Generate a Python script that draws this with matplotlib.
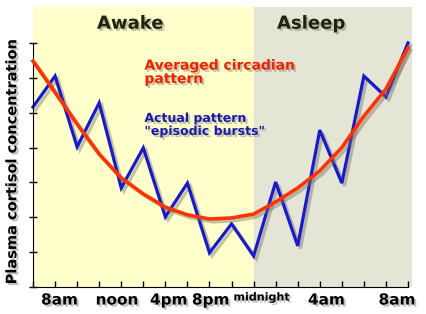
import matplotlib
matplotlib.use("Agg")
import matplotlib.pyplot as plt
import matplotlib.patheffects as pe
import numpy as np

# hours along the day, one step per tick (0..17)
steps = np.arange(18)
actual = [5.16, 6.05, 4.02, 5.28, 2.84, 3.99, 2.01, 2.98, 0.98, 1.81,
          0.89, 3.01, 1.18, 4.50, 2.98, 6.05, 5.45, 7.0]
averaged = [6.48, 5.58, 4.67, 3.81, 3.13, 2.67, 2.29, 2.07, 1.95, 1.98,
            2.09, 2.44, 2.84, 3.33, 4.0, 4.9, 5.68, 6.86]

time_labels = ["8am", "noon", "4pm", "8pm", "midnight", "4am", "8am"]
label_pos = [1.2, 3.8, 6.15, 8.05, 10.35, 13.3, 16.5]
sleep_start = 10  # tick where "Asleep" begins

fig = plt.figure(figsize=(4.26, 3.14), dpi=100)
ax = fig.add_axes([33 / 426, 27 / 314, 379 / 426, 280 / 314])

xmax = 17.18
ymax = 8.03
ax.set_xlim(0, xmax)
ax.set_ylim(0, ymax)

ax.axvspan(0, sleep_start, color="#ffffcc", zorder=0)
ax.axvspan(sleep_start, xmax, color="#e5e5d6", zorder=0)

shadow = [pe.SimpleLineShadow(offset=(2, -2), shadow_color="#777766", alpha=0.45), pe.Normal()]
ax.plot(steps, averaged, color="#ff3300", lw=2.6, zorder=3, clip_on=False,
        solid_joinstyle="round", path_effects=shadow)
ax.plot(steps, actual, color="#1a1acc", lw=2.3, zorder=2, clip_on=False,
        solid_joinstyle="miter", path_effects=shadow)

txt_shadow = [pe.withSimplePatchShadow(offset=(1.5, -1.5), shadow_rgbFace="#888877", alpha=0.5)]

ax.text(4.4, 7.55, "Awake", ha="center", va="center", fontsize=13,
        fontweight="bold", color="#222211", path_effects=txt_shadow)
ax.text(12.6, 7.55, "Asleep", ha="center", va="center", fontsize=13,
        fontweight="bold", color="#222211", path_effects=txt_shadow)
ax.text(5.05, 6.55, "Averaged circadian\npattern", ha="left", va="top",
        fontsize=10, fontweight="bold", color="#ee2200", linespacing=0.95,
        path_effects=txt_shadow)
ax.text(5.05, 5.02, "Actual pattern\n\"episodic bursts\"", ha="left", va="top",
        fontsize=9, fontweight="bold", color="#1a1aaa", linespacing=1.0,
        path_effects=txt_shadow)

for side in ["top", "right"]:
    ax.spines[side].set_visible(False)
ax.spines["left"].set_bounds(0, 7)
ax.spines["bottom"].set_bounds(0, 17)

ax.set_yticks(range(8))
ax.set_yticklabels([])
ax.tick_params(axis="y", direction="inout", length=6, width=1)

ax.set_xticks(steps, minor=True)
ax.tick_params(axis="x", which="minor", direction="in", length=4, width=1)
ax.set_xticks(label_pos)
ax.set_xticklabels(time_labels)
ax.tick_params(axis="x", which="major", length=0, pad=4)
for lbl in ax.get_xticklabels():
    lbl.set_fontweight("bold")
    lbl.set_fontsize(8 if lbl.get_text() == "midnight" else 11)
    lbl.set_path_effects(txt_shadow)

ax.set_ylabel("Plasma cortisol concentration", fontsize=10.5, fontweight="bold",
              path_effects=txt_shadow)
ax.yaxis.set_label_coords(-0.036, 0.45)

fig.savefig("out.png", dpi=100)
